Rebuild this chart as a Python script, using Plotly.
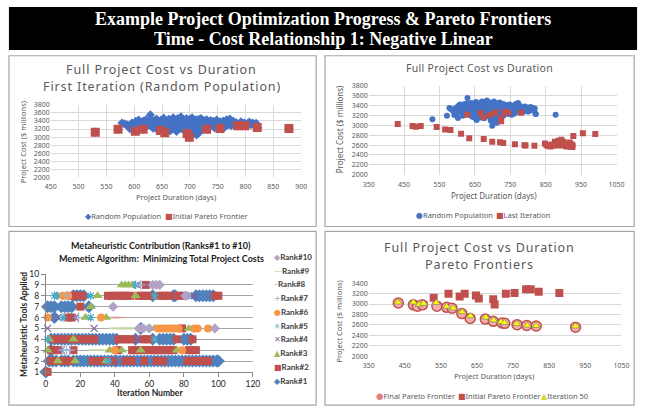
import plotly.graph_objects as go

W, H = 648, 413

# ---------------- data ----------------
random_population = [
    (578, 3350), (582, 3330), (586, 3310), (590, 3280), (592, 3210), (596, 3350), (600, 3250), (603, 3390),
    (606, 3300), (608, 3420), (611, 3350), (614, 3260), (616, 3400), (619, 3330), (621, 3430), (624, 3280),
    (626, 3380), (629, 3550), (630, 3440), (632, 3320), (634, 3220), (636, 3390), (638, 3300), (640, 3450),
    (642, 3180), (644, 3360), (646, 3270), (648, 3420), (650, 3150), (651, 3340), (653, 3470), (655, 3240),
    (657, 3390), (658, 3300), (660, 3200), (662, 3440), (663, 3350), (665, 3160), (667, 3280), (668, 3410),
    (670, 3480), (671, 3230), (673, 3330), (675, 3390), (676, 3140), (678, 3460), (679, 3270), (681, 3360),
    (683, 3210), (684, 3500), (686, 3310), (688, 3420), (689, 3180), (691, 3370), (693, 3250), (694, 3460),
    (696, 3330), (698, 3140), (699, 3400), (702, 3290), (704, 3480), (705, 3350), (707, 3220), (709, 3420),
    (710, 3160), (712, 3310), (714, 3380), (716, 3250), (717, 3440), (719, 3190), (721, 3330), (722, 3400),
    (724, 3280), (726, 3360), (728, 3220), (730, 3430), (731, 3300), (733, 3370), (735, 3250), (737, 3410),
    (739, 3330), (740, 3280), (742, 3390), (744, 3230), (746, 3350), (748, 3420), (750, 3300), (752, 3260),
    (754, 3380), (756, 3330), (758, 3280), (760, 3400), (762, 3240), (764, 3350), (766, 3430), (768, 3300),
    (770, 3370), (772, 3450), (774, 3280), (776, 3340), (778, 3390), (780, 3300), (783, 3360), (786, 3270),
    (789, 3330), (792, 3380), (795, 3300), (798, 3350), (801, 3280), (804, 3340), (807, 3370), (810, 3310),
    (813, 3350), (816, 3300), (819, 3340), (822, 3230),
    (660, 3380), (665, 3420), (672, 3440), (680, 3420), (685, 3380), (690, 3300), (700, 3350), (706, 3300),
    (713, 3430), (720, 3460), (725, 3410), (700, 3440), (695, 3200), (703, 3180), (708, 3120), (712, 3150),
    (705, 3080), (712, 3050), (716, 3100),
    (530, 3122), (571, 3195), (602, 3146), (616, 3195), (647, 3162), (655, 3106), (695, 3090), (699, 2993),
    (730, 3195), (754, 3211), (786, 3283), (799, 3283), (821, 3235), (878, 3211),
]

initial_pareto_days = [530, 571, 602, 616, 647, 655, 695, 699, 730, 754, 786, 799, 821, 878]
initial_pareto_cost = [3122, 3195, 3146, 3195, 3162, 3106, 3090, 2993, 3195, 3211, 3283, 3283, 3235, 3211]

last_iteration = [
    (432, 3025), (474, 2985), (483, 2970), (497, 2985), (542, 2965), (566, 2913), (581, 2907), (611, 2828),
    (634, 2736), (675, 2722), (699, 2670), (721, 2655), (730, 2644), (763, 2617), (790, 2595), (793, 2590),
    (818, 2585),
    (628, 3215), (666, 3248), (675, 3163), (693, 3215), (707, 3260), (724, 3143), (724, 3080), (733, 3275),
    (744, 3255), (780, 3255),
    (848, 2630), (852, 2600), (856, 2580), (860, 2590), (864, 2570), (868, 2610), (872, 2590), (876, 2670),
    (880, 2630), (884, 2590), (886, 2690), (890, 2640), (894, 2710), (898, 2590), (900, 2670), (904, 2610),
    (908, 2570), (910, 2630), (914, 2590), (918, 2650), (920, 2570), (924, 2610), (925, 2560), (926, 2590),
    (928, 2786), (955, 2837), (990, 2823),
]

final_pareto_days = [432, 474, 485, 499, 539, 566, 581, 608, 631, 673, 695, 719, 727, 761, 788, 814, 923]
final_pareto_cost = [3020, 2984, 2959, 2984, 2959, 2936, 2918, 2817, 2723, 2711, 2668, 2637, 2630, 2605, 2590, 2580, 2556]

iteration50_days = [431, 474, 490, 502, 537, 566, 584, 609, 632, 674, 696, 717, 726, 760, 789, 814, 923]
iteration50_cost = [3032, 3032, 2990, 3010, 3025, 2950, 2920, 2845, 2770, 2745, 2690, 2660, 2640, 2620, 2590, 2585, 2575]

# Metaheuristic contribution: (iteration number, tools applied) per rank
rank1_points = [(0, 1),
    (2, 2), (4, 2), (6, 2), (9, 2), (11, 2), (13, 2), (16, 2), (18, 2), (20, 2), (22, 2), (24, 2), (26, 2),
    (28, 2), (30, 2), (32, 2), (34, 2), (36, 2), (38, 2), (40, 2), (41, 2), (43, 2), (45, 2), (47, 2), (49, 2),
    (51, 2), (53, 2), (55, 2), (57, 2), (59, 2), (61, 2), (63, 2), (65, 2), (67, 2), (69, 2), (71, 2), (73, 2),
    (75, 2), (77, 2), (79, 2), (81, 2), (83, 2), (85, 2), (87, 2), (89, 2), (91, 2), (93, 2), (95, 2), (97, 2),
    (99, 2), (100, 2),
    (3, 3),
    (3, 4), (5, 4), (7, 4), (9, 4), (11, 4), (13, 4), (15, 4), (17, 4), (19, 4), (21, 4), (23, 4), (25, 4),
    (27, 4), (29, 4), (31, 4), (33, 4), (35, 4), (37, 4), (39, 4), (41, 4), (52, 4), (62, 4), (66, 4), (68, 4),
    (70, 4), (72, 4), (74, 4), (80, 4), (82, 4), (84, 4),
    (55, 5), (5, 6),
    (1, 7), (3, 7), (5, 7), (9, 7), (11, 7), (13, 7), (15, 7), (25, 7),
    (16, 8), (18, 8), (20, 8), (22, 8), (62, 8), (74, 8), (75, 8), (87, 8), (89, 8), (91, 8), (93, 8), (95, 8),
    (97, 8)]
rank2_points = [(1, 1),
    (3, 2), (5, 2), (8, 2), (10, 2), (12, 2), (14, 2), (27, 2), (29, 2), (31, 2), (33, 2), (35, 2), (37, 2),
    (39, 2), (46, 2), (50, 2), (57, 2), (64, 2), (66, 2), (68, 2), (82, 2), (84, 2), (86, 2), (88, 2), (90, 2),
    (92, 2), (94, 2),
    (3, 3), (5, 3), (7, 3), (16, 3), (42, 3), (50, 3), (52, 3), (54, 3), (57, 3), (60, 3), (62, 3), (64, 3),
    (66, 3), (68, 3), (70, 3), (72, 3), (74, 3), (83, 3), (85, 3), (87, 3),
    (4, 4), (8, 4), (12, 4), (16, 4), (20, 4), (24, 4), (28, 4), (42, 4), (44, 4), (46, 4), (48, 4), (50, 4),
    (56, 4), (58, 4), (60, 4), (76, 4), (85, 4),
    (79, 5), (13, 6), (15, 6), (20, 7),
    (15, 8), (17, 8), (19, 8), (21, 8), (36, 8), (38, 8), (41, 8), (43, 8), (45, 8), (47, 8), (49, 8), (54, 8),
    (56, 8), (58, 8), (60, 8), (66, 8), (68, 8), (70, 8), (72, 8), (77, 8), (79, 8), (98, 8), (100, 8),
    (58, 9)]
rank3_points = [(7, 2), (17, 2), (35, 2), (1, 3), (37, 3), (44, 3), (55, 3), (76, 3), (2, 4), (16, 4),
    (63, 5), (83, 5), (23, 6), (35, 6), (26, 7), (30, 8), (52, 8), (44, 9), (46, 9), (48, 9), (50, 9)]
rank4_points = [(37, 2), (9, 3), (53, 4), (1, 5), (28, 5), (7, 6), (17, 6), (8, 8), (84, 8), (86, 8),
    (53, 9), (60, 9)]
rank5_points = [(36, 2), (1, 4), (63, 4), (57, 5), (10, 6), (26, 6), (5, 8), (7, 8), (26, 8), (63, 8),
    (82, 8), (52, 9)]
rank6_points = [(40, 3), (79, 3), (65, 5), (67, 5), (69, 5), (71, 5), (73, 5), (75, 5), (77, 5), (86, 5),
    (88, 5), (94, 5), (1, 6), (32, 6), (10, 8), (13, 8)]
rank7_points = [(10, 3), (12, 3), (14, 3), (19, 6), (12, 8), (55, 9)]
rank8_points = [(40, 6), (42, 6), (81, 8)]
rank9_points = [(29, 3), (31, 3), (40, 5), (42, 5), (44, 5), (46, 5), (48, 5), (50, 5), (52, 5)]
rank10_points = [(54, 5), (56, 5), (60, 5), (98, 5), (39, 7), (81, 8), (62, 9), (64, 9), (66, 9)]

rank_names = ["Rank#1", "Rank#2", "Rank#3", "Rank#4", "Rank#5",
              "Rank#6", "Rank#7", "Rank#8", "Rank#9", "Rank#10"]

# ---------------- helpers ----------------
def px(x):
    return x / W


def py(y):
    return 1 - y / H


def xdom(a, b):
    return [a / W, b / W]


def ydom(top, bottom):
    return [1 - bottom / H, 1 - top / H]


GRAY = "#595959"
SANS = "Noto Sans"
annotations = []
shapes = []


def ann(text, x, y, size, color=GRAY, family=SANS, xanchor="center", angle=0):
    annotations.append(dict(
        text=text, x=px(x), y=py(y), xref="paper", yref="paper",
        xanchor=xanchor, yanchor="middle", showarrow=False, textangle=angle,
        borderpad=0, font=dict(size=size, color=color, family=family)))


def spaced(t, sp):
    return '<span style="letter-spacing:%spx">%s</span>' % (sp, t)


def key(glyph, color, label, gsize=8):
    return ('<span style="color:%s;font-family:DejaVu Sans;font-size:%spx">%s</span>%s'
            % (color, gsize, glyph, label))


fig = go.Figure()

# ---------------- Panel 1 ----------------
fig.add_trace(go.Scatter(
    x=[p[0] for p in random_population], y=[p[1] for p in random_population],
    mode="markers", name="Random Population", xaxis="x", yaxis="y",
    marker=dict(symbol="diamond", size=7, color="#4472C4")))
fig.add_trace(go.Scatter(
    x=initial_pareto_days, y=initial_pareto_cost, mode="markers", name="Initial Pareto Frontier",
    xaxis="x", yaxis="y", marker=dict(symbol="square", size=9, color="#C0504D")))

# ---------------- Panel 2 ----------------
fig.add_trace(go.Scatter(
    x=[p[0] for p in random_population], y=[p[1] for p in random_population],
    mode="markers", name="Random Population", xaxis="x2", yaxis="y2",
    marker=dict(symbol="circle", size=6, color="#4472C4")))
fig.add_trace(go.Scatter(
    x=[p[0] for p in last_iteration], y=[p[1] for p in last_iteration],
    mode="markers", name="Last Iteration", xaxis="x2", yaxis="y2",
    marker=dict(symbol="square", size=6, color="#C0504D")))

# ---------------- Panel 3 ----------------
rank_points = [rank1_points, rank2_points, rank3_points, rank4_points, rank5_points,
               rank6_points, rank7_points, rank8_points, rank9_points, rank10_points]
rank_styles = [
    dict(symbol="diamond", size=10, color="#4F81BD"),
    dict(symbol="square", size=8, color="#C0504D"),
    dict(symbol="triangle-up", size=9, color="#9BBB59"),
    dict(symbol="x-thin-open", size=7, color="#8064A2", line=dict(width=1.2, color="#8064A2")),
    dict(symbol="asterisk-open", size=7, color="#4BACC6", line=dict(width=1.2, color="#4BACC6")),
    dict(symbol="circle", size=8, color="#F79646"),
    dict(symbol="cross-thin-open", size=7, color="#95B3D7", line=dict(width=1.2, color="#95B3D7")),
    dict(symbol="line-ew-open", size=7, color="#D99694", line=dict(width=1.5, color="#D99694")),
    dict(symbol="line-ew-open", size=10, color="#C3D69B", line=dict(width=1.5, color="#C3D69B")),
    dict(symbol="diamond", size=8, color="#B3A2C7"),
]
for name, pts, st in zip(rank_names, rank_points, rank_styles):
    fig.add_trace(go.Scatter(
        x=[p[0] for p in pts], y=[p[1] for p in pts], mode="markers", name=name,
        xaxis="x3", yaxis="y3", marker=st, cliponaxis=False))

# ---------------- Panel 4 ----------------
fig.add_trace(go.Scatter(
    x=final_pareto_days, y=final_pareto_cost, mode="markers", name="Final Pareto Frontier",
    xaxis="x4", yaxis="y4",
    marker=dict(symbol="circle", size=10, color="#F2AFAE", line=dict(width=1.5, color="#C0504D"))))
fig.add_trace(go.Scatter(
    x=initial_pareto_days, y=initial_pareto_cost, mode="markers", name="Initial Pareto Frontier",
    xaxis="x4", yaxis="y4", marker=dict(symbol="square", size=8, color="#C0504D")))
fig.add_trace(go.Scatter(
    x=iteration50_days, y=iteration50_cost, mode="markers", name="Iteration 50",
    xaxis="x4", yaxis="y4",
    marker=dict(symbol="triangle-up", size=7, color="#FFFF00", line=dict(width=0.8, color="#8C8C6E"))))

# ---------------- axes ----------------
tickf = dict(family=SANS, size=7, color=GRAY)
base = dict(showgrid=True, gridcolor="#D9D9D9", gridwidth=1, zeroline=False, ticks="",
            tickfont=tickf, showline=False, fixedrange=True)
xbase = dict(base, ticklabelstandoff=4)

layout_axes = dict(
    xaxis=dict(xbase, domain=xdom(45.7, 301.7), range=[450, 900], dtick=50, tick0=450, anchor="y"),
    yaxis=dict(base, domain=ydom(102.3, 176.7), range=[2000, 3800], dtick=200, anchor="x"),
    xaxis2=dict(xbase, domain=xdom(370.7, 624), range=[350, 1050], dtick=100, tick0=350, anchor="y2"),
    yaxis2=dict(base, domain=ydom(82.7, 174), range=[2000, 3800], dtick=200, anchor="x2"),
    xaxis4=dict(xbase, domain=xdom(370.7, 629), range=[350, 1050], dtick=100, tick0=350, anchor="y4",
                showgrid=False),
    yaxis4=dict(base, domain=ydom(285, 360), range=[2000, 3400], dtick=200, anchor="x4"),
    xaxis3=dict(domain=xdom(40.7, 252.3), range=[0, 120], dtick=20, tick0=0, anchor="y3",
                showgrid=False, zeroline=False, showline=True, linecolor="#868686", linewidth=1,
                ticks="outside", ticklen=4, tickcolor="#868686", fixedrange=True,
                tickfont=dict(family="Lato", size=8.5, color="#262626")),
    yaxis3=dict(domain=ydom(275.7, 376), range=[1, 10], dtick=1, tick0=1, anchor="x3",
                showgrid=True, gridcolor="#A6A6A6", gridwidth=1, zeroline=False, showline=True,
                linecolor="#868686", linewidth=1, ticks="outside", ticklen=4, tickcolor="#868686",
                fixedrange=True, tickfont=dict(family="Lato", size=8.5, color="#262626")),
)

# ---------------- frames & title band ----------------
shapes.append(dict(type="rect", xref="paper", yref="paper", x0=px(3), x1=px(645), y0=py(46), y1=py(2),
                   fillcolor="black", line=dict(width=0), layer="below"))
for (a, t, b, bt) in [(3, 52, 317, 227), (326, 52, 642, 227), (3, 232, 317, 410), (326, 232, 642, 410)]:
    shapes.append(dict(type="rect", xref="paper", yref="paper", x0=px(a), x1=px(b), y0=py(bt), y1=py(t),
                       line=dict(color="#A6A6A6", width=1.2), fillcolor="rgba(0,0,0,0)", layer="below"))

# ---------------- texts ----------------
ann("<b>Example Project Optimization Progress & Pareto Frontiers</b>", 324, 14, 18, "white", "Liberation Serif")
ann("<b>Time - Cost Relationship 1: Negative Linear</b>", 324, 35, 18, "white", "Liberation Serif")

# Panel 1
ann(spaced("Full Project Cost vs Duration", 0.9), 159, 65.7, 12.5)
ann(spaced("First Iteration (Random Population)", 0.9), 159, 83.3, 12.5)
ann("Project Duration (days)", 173.7, 196.5, 7.5)
ann("Project Cost ($ millions)", 17, 141, 7.5, angle=-90)
ann(key("◆", "#4472C4", "Random Population"), 79.5, 216, 7.5, xanchor="left")
ann(key("■", "#C0504D", "Initial Pareto Frontier"), 161.5, 216, 7.5, xanchor="left")

# Panel 2
ann(spaced("Full Project Cost vs Duration", 0.3), 484, 65, 10.5)
ann("Project Duration (days)", 498.5, 195, 8)
ann("Project Cost ($ millions)", 341.7, 127, 8, angle=-90)
ann(key("●", "#4472C4", "Random Population"), 418.5, 215.7, 7.5, xanchor="left")
ann(key("■", "#C0504D", "Last Iteration"), 499.5, 215.7, 7.5, xanchor="left")

# Panel 3
ann("<b>Metaheuristic Contribution (Ranks#1 to #10)</b>", 158.5, 246.7, 9, "#1A1A1A", "Lato")
ann("<b>Memetic Algorithm:\u00a0 Minimizing Total Project Costs</b>", 158.5, 259.3, 9, "#1A1A1A", "Lato")
ann("<b>Iteration Number</b>", 146.7, 397.3, 8.5, "#262626", "Lato")
ann("<b>Metaheuristic Tools Applied</b>", 18.3, 327, 8.5, "#262626", "Lato", angle=-90)
legend_glyphs = ["◆", "■", "▲", "✕", "✳", "●", "+", "–", "—", "◆"]
legend_colors = [s["color"] for s in rank_styles]
for i, (name, g, c) in enumerate(zip(rank_names, legend_glyphs, legend_colors)):
    yy = 385 - i * 14.1
    ann(key(g, c, "<b>%s</b>" % name, 8), 272.5, yy, 8, "#404040", "Lato", xanchor="left")

# Panel 4
ann(spaced("Full Project Cost vs Duration", 0.9), 484, 249, 12.5)
ann(spaced("Pareto Frontiers", 0.9), 484, 266, 12.5)
ann("Project Duration (days)", 498.3, 380.5, 7.5)
ann("Project Cost ($ millions)", 340.7, 324, 7.5, angle=-90)
ann(key("●", "#E0807E", "Final Pareto Frontier", 8.5), 377.5, 400.7, 7.5, xanchor="left")
ann(key("■", "#C0504D", "Initial Pareto Frontier"), 460.5, 400.7, 7.5, xanchor="left")
ann(key("▲", "#D6D630", "Iteration 50"), 545.5, 400.7, 7.5, xanchor="left")

fig.update_layout(
    width=W, height=H, margin=dict(l=0, r=0, t=0, b=0),
    paper_bgcolor="white", plot_bgcolor="white", showlegend=False,
    shapes=shapes, annotations=annotations, **layout_axes)

fig.write_html("out.html")
